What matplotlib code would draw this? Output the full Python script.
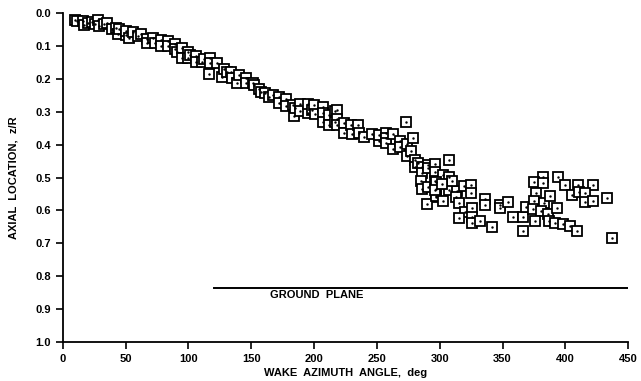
import matplotlib
matplotlib.use("Agg")
import matplotlib.pyplot as plt

# wake azimuth angle (deg) and axial location z/R
wake_azimuth = [
    9.5, 11, 16, 17, 20, 23, 26, 28, 29, 33, 35, 39, 42, 44, 45, 50, 50, 53, 56, 60,
    62, 67, 67, 72, 73, 78, 78, 84, 84, 89, 89, 91, 95, 95, 100, 100, 101, 106, 106, 111,
    112, 116, 117, 117, 123,
    127, 128, 131, 134, 135, 139, 140, 146, 146, 151, 152, 156, 158, 161, 164, 167, 172, 172, 178, 178,
    183, 184, 185, 189, 189, 195, 195, 198, 200, 201, 207, 207, 207, 212, 212, 217, 217,
    218, 218, 218, 224, 224, 229, 230, 235, 236, 240, 246, 252, 252, 257, 257, 257, 263, 263,
    268, 268, 274, 273, 279, 274, 277, 280, 280, 283, 286, 286, 285, 286, 291, 291, 296, 296, 291, 296,
    297, 297, 290,
    307, 303, 307, 297, 297, 303, 296, 307, 314, 319, 325, 325, 313, 315, 320, 326, 326, 315, 326, 332,
    336, 336, 348, 348, 354, 342, 358, 366, 369, 366, 310, 302,
    382, 375, 382, 394, 400, 410, 422, 405, 411, 416, 416, 422, 433, 377, 375, 383, 388, 374, 381, 386,
    393, 376, 387, 392, 398, 404, 409, 437,
]
axial_location = [
    0.021, 0.024, 0.025, 0.038, 0.030, 0.027, 0.035, 0.020, 0.040, 0.034, 0.030, 0.050, 0.045, 0.065, 0.050, 0.067, 0.055, 0.075, 0.058, 0.070,
    0.064, 0.080, 0.090, 0.077, 0.090, 0.083, 0.100, 0.086, 0.100, 0.095, 0.110, 0.120, 0.105, 0.137, 0.120, 0.137, 0.127, 0.131, 0.149, 0.149,
    0.140, 0.185, 0.137, 0.152, 0.152,
    0.195, 0.170, 0.180, 0.179, 0.198, 0.213, 0.189, 0.198, 0.213, 0.213, 0.220, 0.231, 0.240, 0.243, 0.255, 0.249, 0.255, 0.274, 0.261, 0.283,
    0.280, 0.313, 0.290, 0.277, 0.298, 0.304, 0.277, 0.295, 0.280, 0.307, 0.286, 0.304, 0.331, 0.310, 0.340, 0.298, 0.332,
    0.295, 0.322, 0.340, 0.334, 0.365, 0.340, 0.368, 0.340, 0.365, 0.377, 0.368, 0.389, 0.371, 0.365, 0.380, 0.395, 0.368, 0.413,
    0.389, 0.407, 0.398, 0.331, 0.380, 0.435, 0.420, 0.447, 0.468, 0.455, 0.468, 0.486, 0.511, 0.535, 0.462, 0.471, 0.459, 0.483, 0.529, 0.511,
    0.535, 0.559, 0.581,
    0.447, 0.492, 0.498, 0.514, 0.556, 0.571, 0.538, 0.538, 0.541, 0.526, 0.523, 0.547, 0.559, 0.578, 0.605, 0.593, 0.620, 0.623, 0.638, 0.632,
    0.565, 0.584, 0.584, 0.593, 0.574, 0.650, 0.620, 0.620, 0.590, 0.663, 0.510, 0.520,
    0.498, 0.514, 0.517, 0.498, 0.523, 0.523, 0.523, 0.553, 0.544, 0.547, 0.574, 0.571, 0.562, 0.547, 0.571, 0.578, 0.556, 0.596, 0.602, 0.611,
    0.593, 0.632, 0.632, 0.638, 0.641, 0.647, 0.663, 0.684,
]

ground_x = [120, 450]
ground_z = [0.835, 0.835]

plt.rcParams['font.family'] = ['Liberation Sans', 'DejaVu Sans']
plt.rcParams['font.weight'] = 'bold'

fig = plt.figure(figsize=(6.41, 3.81), dpi=100)
ax = fig.add_axes([0.098, 0.102, 0.882, 0.864])

ax.plot(wake_azimuth, axial_location, linestyle='none', marker='s', markersize=6.5,
        markerfacecolor='white', markeredgecolor='black', markeredgewidth=1.3)
ax.plot(wake_azimuth, axial_location, linestyle='none', marker='.', markersize=1.5,
        color='black')

ax.plot(ground_x, ground_z, color='black', linewidth=1.4)
ax.text(165, 0.858, 'GROUND  PLANE', fontsize=8, fontweight='bold', va='center', ha='left')

ax.set_xlim(0, 450)
ax.set_ylim(1.0, 0.0)
ax.set_xticks([0, 50, 100, 150, 200, 250, 300, 350, 400, 450])
ax.set_yticks([0.0, 0.1, 0.2, 0.3, 0.4, 0.5, 0.6, 0.7, 0.8, 0.9, 1.0])
ax.set_yticklabels(['0.0', '0.1', '0.2', '0.3', '0.4', '0.5', '0.6', '0.7', '0.8', '0.9', '1.0'])

ax.spines['top'].set_visible(False)
ax.spines['right'].set_visible(False)
ax.spines['left'].set_linewidth(1.3)
ax.spines['bottom'].set_linewidth(1.3)
ax.tick_params(direction='out', length=5, width=1.2, labelsize=8)

ax.set_xlabel('WAKE  AZIMUTH  ANGLE,  deg', fontsize=8, fontweight='bold', labelpad=3)
ax.set_ylabel('AXIAL  LOCATION,  z/R', fontsize=8, fontweight='bold', labelpad=12)

fig.savefig('out.png', dpi=100)
